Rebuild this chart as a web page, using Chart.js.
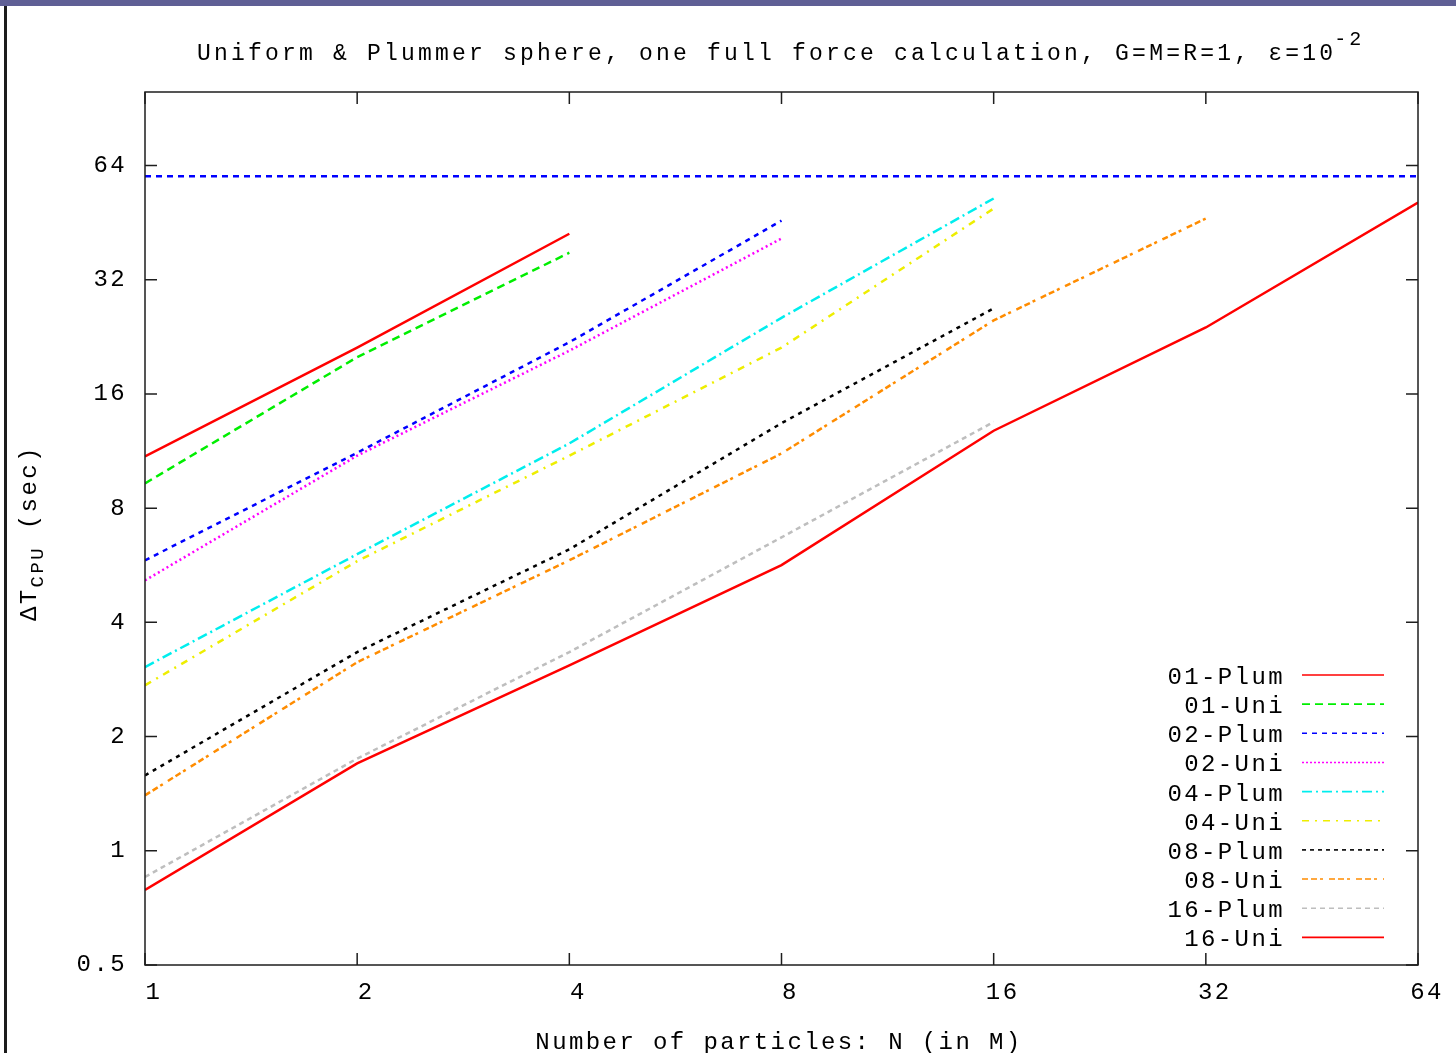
<!DOCTYPE html>
<html lang="en">
<head>
<meta charset="UTF-8">
<title>Force calculation timing</title>
<script src="https://cdn.jsdelivr.net/npm/chart.js@4.4.1/dist/chart.umd.min.js"></script>
<style>
  body { margin: 0; background: #fff; }
  #wrap { position: relative; width: 1456px; height: 1053px; overflow: hidden; }
  #topbar { position: absolute; left: 0; top: 0; width: 1456px; height: 6px; background: #5f5f95; }
  #leftbar { position: absolute; left: 4px; top: 6px; width: 3px; height: 1047px; background: #1c1c1c; }
  canvas { position: absolute; left: 0; top: 0; }
</style>
</head>
<body>
<div id="wrap">
  <canvas id="chart" width="1456" height="1053"></canvas>
  <div id="topbar"></div>
  <div id="leftbar"></div>
</div>

<script>
// data (N in millions, time in seconds)
var nParticles = [1, 2, 4, 8, 16, 32, 64];
var xTicks = [1, 2, 4, 8, 16, 32, 64];
var yTicks = [0.5, 1, 2, 4, 8, 16, 32, 64];

var plum01 = [10.95, 21.2, 42.3];
var uni01  = [9.3, 20.0, 37.7];
var plum02 = [5.83, 11.2, 21.9, 45.8];
var uni02  = [5.16, 11.0, 20.8, 41.1];
var plum04 = [3.05, 6.05, 11.85, 25.4, 52.4];
var uni04  = [2.73, 5.8, 11.0, 21.2, 49.3];
var plum08 = [1.58, 3.34, 6.23, 13.4, 26.9];
var uni08  = [1.40, 3.14, 5.83, 11.15, 25.0, 46.4];
var plum16 = [0.853, 1.75, 3.34, 6.7, 13.5];
var uni16  = [0.788, 1.70, 3.08, 5.66, 12.8, 23.95, 51.1];

// flat blue line near the top of the plot
var refX = [1, 64];
var refY = [60, 60];

var FONT = '"Liberation Mono", "DejaVu Sans Mono", monospace';
var LS = '2.4px';

function pts(ys, xs) {
  xs = xs || nParticles;
  return ys.map(function (v, i) { return { x: xs[i], y: v }; });
}

function series(label, ys, color, dash, legendDash) {
  return {
    label: label,
    data: pts(ys),
    borderColor: color,
    backgroundColor: color,
    borderWidth: 2.5,
    borderDash: dash,
    legendDash: legendDash || dash,
    pointRadius: 0,
    tension: 0,
    fill: false
  };
}

var datasets = [
  series('01-Plum', plum01, '#ff0000', []),
  series('01-Uni',  uni01,  '#00ee00', [8, 5], [8, 5]),
  series('02-Plum', plum02, '#0000ff', [5, 5], [5, 5]),
  series('02-Uni',  uni02,  '#ff00ff', [2, 3], [2, 2]),
  series('04-Plum', plum04, '#00eeee', [10, 4, 2, 4], [10, 4, 2, 4]),
  series('04-Uni',  uni04,  '#eeee00', [7, 6, 2, 6], [7, 6, 2, 6]),
  series('08-Plum', plum08, '#000000', [4, 5], [4, 4]),
  series('08-Uni',  uni08,  '#ff8c00', [6, 3, 6, 3, 3, 6], [6, 3, 6, 3, 3, 6]),
  series('16-Plum', plum16, '#bebebe', [5, 4], [5, 4]),
  series('16-Uni',  uni16,  '#ff0000', [])
];

var refLine = {
  label: 'ref',
  data: pts(refY, refX),
  borderColor: '#0000ff',
  borderWidth: 2.5,
  borderDash: [6, 5],
  pointRadius: 0,
  noLegend: true
};
datasets.push(refLine);

// frame, inward ticks, legend and titles in gnuplot style
var gnuplotLook = {
  id: 'gnuplotLook',
  beforeUpdate: function (chart) { chart.ctx.letterSpacing = LS; },
  beforeDraw: function (chart) { chart.ctx.letterSpacing = LS; },
  afterDatasetsDraw: function (chart) {
    var ctx = chart.ctx;
    var a = chart.chartArea;
    var xs = chart.scales.x, ys = chart.scales.y;
    ctx.save();
    ctx.letterSpacing = LS;

    // border
    ctx.strokeStyle = '#1e1e1e';
    ctx.lineWidth = 1.5;
    ctx.setLineDash([]);
    ctx.strokeRect(a.left, a.top, a.right - a.left, a.bottom - a.top);

    // tick marks pointing inwards, on all four sides
    var tl = 12;
    ctx.beginPath();
    xTicks.forEach(function (v) {
      var px = xs.getPixelForValue(v);
      ctx.moveTo(px, a.bottom); ctx.lineTo(px, a.bottom - tl);
      ctx.moveTo(px, a.top); ctx.lineTo(px, a.top + tl);
    });
    yTicks.forEach(function (v) {
      var py = ys.getPixelForValue(v);
      ctx.moveTo(a.left, py); ctx.lineTo(a.left + tl, py);
      ctx.moveTo(a.right, py); ctx.lineTo(a.right - tl, py);
    });
    ctx.stroke();

    // legend
    ctx.font = '24px ' + FONT;
    ctx.fillStyle = '#000';
    ctx.textAlign = 'right';
    ctx.textBaseline = 'alphabetic';
    var row = 0;
    chart.data.datasets.forEach(function (ds) {
      if (ds.noLegend) return;
      var ly = 675 + row * 29.15;
      ctx.fillText(ds.label, 1285, ly + 9);
      ctx.beginPath();
      ctx.strokeStyle = ds.borderColor;
      ctx.lineWidth = 1.6;
      ctx.setLineDash(ds.legendDash);
      ctx.moveTo(1302, ly);
      ctx.lineTo(1384, ly);
      ctx.stroke();
      row++;
    });
    ctx.setLineDash([]);

    // title with superscript
    ctx.textAlign = 'left';
    ctx.letterSpacing = '3.2px';
    ctx.font = '23px ' + FONT;
    var t = 'Uniform & Plummer sphere, one full force calculation, G=M=R=1, \u03b5=10';
    ctx.fillText(t, 197, 60);
    var w = ctx.measureText(t).width;
    ctx.font = '20px ' + FONT;
    ctx.fillText('-2', 197 + w - 2, 45);
    ctx.letterSpacing = LS;

    // x axis title
    ctx.font = '24px ' + FONT;
    ctx.textAlign = 'center';
    ctx.fillText('Number of particles: N (in M)', 779, 1049);

    // y axis title, rotated, with subscript
    ctx.rotate(-Math.PI / 2);
    ctx.textAlign = 'left';
    var rx = -621;
    ctx.font = '24px ' + FONT;
    ctx.fillText('\u0394T', rx, 36);
    rx += ctx.measureText('\u0394T').width;
    ctx.font = '19px ' + FONT;
    ctx.fillText('CPU', rx, 43);
    rx += ctx.measureText('CPU').width;
    ctx.font = '24px ' + FONT;
    ctx.fillText(' (sec)', rx, 36);

    ctx.restore();
  }
};

var ctx = document.getElementById('chart').getContext('2d');
var chart = new Chart(ctx, {
  type: 'line',
  data: { datasets: datasets },
  plugins: [gnuplotLook],
  options: {
    responsive: false,
    animation: false,
    devicePixelRatio: 1,
    layout: { padding: { top: 92, right: 38, left: 0, bottom: 0 } },
    plugins: {
      legend: { display: false },
      title: { display: false },
      tooltip: { enabled: false }
    },
    scales: {
      x: {
        type: 'logarithmic',
        min: 1,
        max: 64,
        grid: { display: false, drawTicks: false },
        border: { display: false },
        afterBuildTicks: function (s) { s.ticks = xTicks.map(function (v) { return { value: v }; }); },
        afterFit: function (s) { s.height = 88; },
        ticks: {
          autoSkip: false,
          maxRotation: 0,
          padding: 16,
          labelOffset: 9,
          color: '#000',
          font: { family: FONT, size: 24, lineHeight: 1 },
          callback: function (v) { return String(v); }
        }
      },
      y: {
        type: 'logarithmic',
        min: 0.5,
        max: 100,
        grid: { display: false, drawTicks: false },
        border: { display: false },
        afterBuildTicks: function (s) { s.ticks = yTicks.map(function (v) { return { value: v }; }); },
        afterFit: function (s) { s.width = 145; },
        ticks: {
          autoSkip: false,
          padding: 18,
          color: '#000',
          font: { family: FONT, size: 24, lineHeight: 1 },
          callback: function (v) { return String(v); }
        }
      }
    }
  }
});
</script>
</body>
</html>
